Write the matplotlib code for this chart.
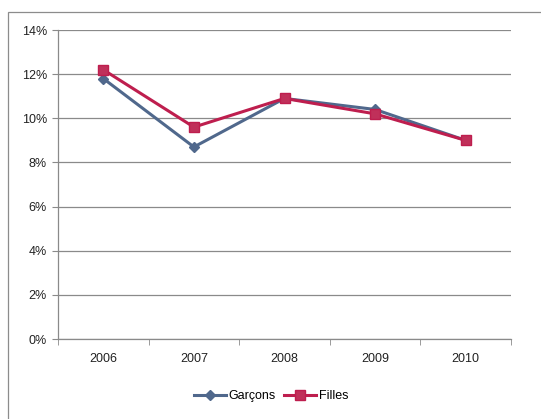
import matplotlib
matplotlib.use('Agg')
import matplotlib.pyplot as plt
import matplotlib as mpl
from matplotlib.patches import Rectangle

years = ['2006', '2007', '2008', '2009', '2010']
garcons = [11.8, 8.7, 10.9, 10.4, 9.0]
filles = [12.2, 9.6, 10.9, 10.2, 9.0]

plt.rcParams['font.family'] = ['Liberation Sans', 'DejaVu Sans']

fig = plt.figure(figsize=(5.41, 4.19), dpi=100)
fig.patch.set_facecolor('white')

# chart area border (Excel style frame)
fig.patches.append(Rectangle(
    (8 / 541, -0.01), 1.2, 1 - 12 / 419 + 0.01,
    transform=fig.transFigure, fill=False, edgecolor='#8c8c8c', lw=0.9,
))

ax = fig.add_axes([58 / 541, 1 - 339 / 419, 453 / 541, 309 / 419])
x = list(range(len(years)))

ax.plot(x, garcons, color='#50688c', lw=2.2, marker='D', ms=5,
        markerfacecolor='#50688c', markeredgecolor='#50688c',
        label='Garçons', zorder=3)
ax.plot(x, filles, color='#be1e4e', lw=2.2, marker='s', ms=7,
        markerfacecolor='#c0305a', markeredgecolor='#be1e4e',
        label='Filles', zorder=4)

ax.set_xlim(-0.5, len(years) - 0.5)
ax.set_ylim(0, 14)
ax.set_yticks(range(0, 15, 2))
ax.yaxis.set_major_formatter(mpl.ticker.FuncFormatter(lambda v, p: '{:d}%'.format(int(v))))
ax.set_xticks(x)
ax.set_xticklabels(years)
ax.set_xticks([i + 0.5 for i in range(-1, len(years))], minor=True)

ax.grid(axis='y', color='#8a8a8a', lw=0.9)
ax.set_axisbelow(True)
for side in ['top', 'right']:
    ax.spines[side].set_visible(False)
for side in ['left', 'bottom']:
    ax.spines[side].set_color('#8a8a8a')
    ax.spines[side].set_linewidth(0.9)

ax.tick_params(axis='y', length=4, color='#8a8a8a', labelsize=9, labelcolor='#222222', pad=4)
ax.tick_params(axis='x', which='major', length=0, labelsize=9, labelcolor='#222222', pad=10)
ax.tick_params(axis='x', which='minor', length=4, color='#8a8a8a')

ax.legend(loc='upper center', bbox_to_anchor=(0.47, -0.15), ncol=2, frameon=False,
          fontsize=9, handlelength=2.6, columnspacing=0.6, handletextpad=0.2,
          borderaxespad=0)

fig.savefig('out.png', dpi=100)
